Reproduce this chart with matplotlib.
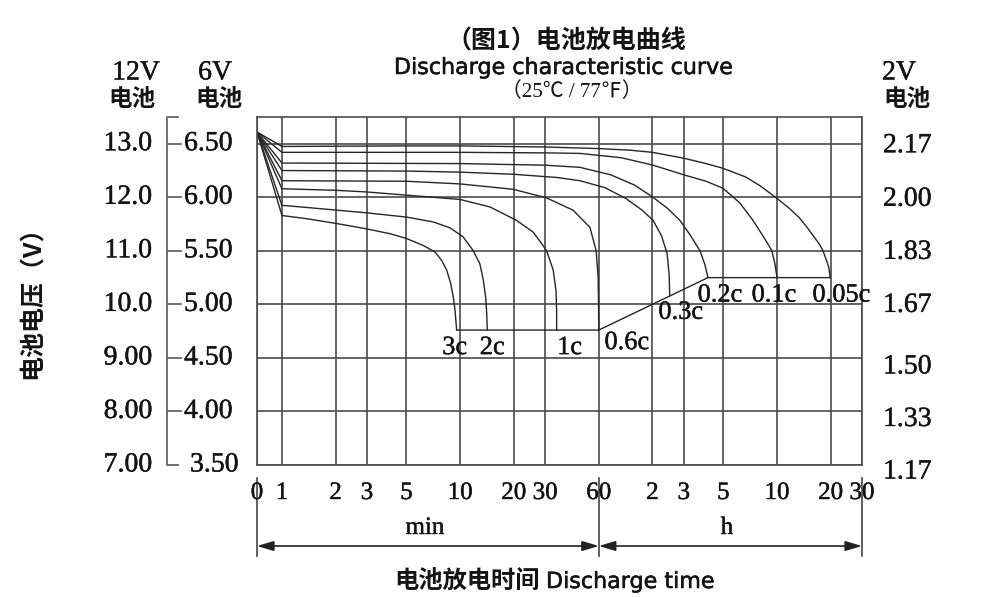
import matplotlib
matplotlib.use("Agg")
import matplotlib.pyplot as plt
import matplotlib.patheffects as pe
from matplotlib.ticker import NullLocator
from matplotlib.transforms import ScaledTranslation

# ---------------- data (time in minutes, voltage on the 12 V scale) ----------------
x_ticks = [0, 1, 2, 3, 5, 10, 20, 30, 60, 120, 180, 300, 600, 1200, 1800]
x_tick_labels = ["0", "1", "2", "3", "5", "10", "20", "30", "60",
                 "2", "3", "5", "10", "20", "30"]

v12_ticks = [13.0, 12.0, 11.0, 10.0, 9.0, 8.0, 7.0]
v12_labels = ["13.0", "12.0", "11.0", "10.0", "9.00", "8.00", "7.00"]
v6_labels = ["6.50", "6.00", "5.50", "5.00", "4.50", "4.00", "3.50"]
v2_labels = ["2.17", "2.00", "1.83", "1.67", "1.50", "1.33", "1.17"]

t_3c = [0, 1, 1.38, 2.03, 2.99, 4.04, 5.01, 6.21, 7.22, 7.88, 8.41, 8.85, 9.15, 9.36, 9.56]
v_3c = [13.22, 11.66, 11.60, 11.51, 11.41, 11.32, 11.23, 11.10, 10.98, 10.82, 10.64, 10.39, 10.14, 9.89, 9.52]

t_2c = [0, 1, 1.38, 2.03, 2.99, 5.01, 7.07, 8.77, 10.4, 11.8, 12.9, 13.5, 13.9, 14.1, 14.2]
v_2c = [13.22, 11.85, 11.81, 11.76, 11.71, 11.63, 11.54, 11.43, 11.26, 11.01, 10.76, 10.45, 10.14, 9.83, 9.52]

t_1c = [0, 1, 2.03, 2.99, 5.01, 9.99, 14.7, 20.7, 25.7, 30.5, 33.3, 34.5, 34.8, 34.8]
v_1c = [13.22, 12.16, 12.13, 12.10, 12.04, 11.96, 11.82, 11.57, 11.35, 11.01, 10.64, 10.26, 9.89, 9.52]

t_06c = [0, 1, 5, 10, 19.8, 30.5, 43, 53.5, 58, 59.5, 59.8, 60]
v_06c = [13.22, 12.31, 12.30, 12.25, 12.15, 11.99, 11.76, 11.44, 11.0, 10.5, 10.0, 9.52]

t_03c = [0, 1, 5, 10, 20, 35, 47, 65, 85, 105, 121, 135, 145, 149, 150]
v_03c = [13.22, 12.50, 12.49, 12.47, 12.43, 12.37, 12.31, 12.18, 11.98, 11.76, 11.57, 11.28, 10.95, 10.55, 10.16]

t_02c = [0, 1, 10, 30, 47, 70, 95, 121, 145, 171, 195, 222, 236, 246]
v_02c = [13.22, 12.64, 12.63, 12.60, 12.56, 12.42, 12.23, 12.0, 11.8, 11.57, 11.3, 11.0, 10.75, 10.5]

t_01c = [0, 1, 10, 30, 47, 80, 121, 180, 240, 298, 370, 440, 500, 540, 562, 585, 600]
v_01c = [13.22, 12.84, 12.84, 12.83, 12.82, 12.74, 12.60, 12.42, 12.30, 12.17, 11.90, 11.57, 11.28, 11.10, 11.0, 10.75, 10.5]

t_005c = [0, 1, 5, 10, 30, 60, 90, 120, 180, 240, 300, 400, 480, 600, 700, 800, 884, 960, 1040, 1087, 1130, 1170, 1195]
v_005c = [13.22, 12.95, 12.96, 12.96, 12.94, 12.91, 12.88, 12.84, 12.73, 12.63, 12.54, 12.38, 12.22, 11.98, 11.80, 11.62, 11.44, 11.28, 11.12, 11.0, 10.85, 10.70, 10.5]

# end-of-discharge (cut-off) voltage line
cutoff_t = [9.56, 60, 246, 1195]
cutoff_v = [9.52, 9.52, 10.5, 10.5]

curves = [("3c", t_3c, v_3c, (-2, -18)),
          ("2c", t_2c, v_2c, (5, -18)),
          ("1c", t_1c, v_1c, (13, -18)),
          ("0.6c", t_06c, v_06c, (28, -13)),
          ("0.3c", t_03c, v_03c, (11, -17)),
          ("0.2c", t_02c, v_02c, (12, -18)),
          ("0.1c", t_01c, v_01c, (-3, -18)),
          ("0.05c", t_005c, v_005c, (11, -18))]

# ---------------- figure ----------------
W, H = 1004, 597
fig = plt.figure(figsize=(W / 100, H / 100), dpi=100)
fig.patch.set_facecolor("white")

L, R, T, B = 257, 862, 117, 465
ax = fig.add_axes([L / W, 1 - B / H, (R - L) / W, (B - T) / H])

SERIF = ["Liberation Serif", "DejaVu Serif"]
CJK = ["Noto Sans CJK SC", "DejaVu Sans"]
GRID = "#4a4a4a"
INK = "#262626"
TXT = "#141414"
# a touch of extra weight for the printed-looking serif numerals
HEAVY = [pe.withStroke(linewidth=0.3, foreground=TXT)]
serif_kw = dict(family=SERIF, color=TXT, path_effects=HEAVY)

ax.set_xscale("symlog", linthresh=1, linscale=0.126)
ax.set_xlim(0, 1800)
ax.set_ylim(7.0, 13.5)
ax.xaxis.set_minor_locator(NullLocator())
ax.set_xticks(x_ticks)
ax.set_yticks(v12_ticks)
ax.tick_params(length=0, labelbottom=False, labelleft=False)
ax.grid(True, color=GRID, lw=1.2)
ax.set_axisbelow(True)
for s in ax.spines.values():
    s.set_color(GRID)
    s.set_linewidth(1.2)

for name, t, v, off in curves:
    ax.plot(t, v, color=INK, lw=1.0, solid_joinstyle="round")
    ax.annotate(name, (t[-1], v[-1]), xytext=off, textcoords="offset pixels",
                ha="center", va="center", fontsize=19, **serif_kw)
ax.plot(cutoff_t, cutoff_v, color=INK, lw=1.0)

# x tick labels
xtr = ax.get_xaxis_transform()
for xv, lab in zip(x_ticks, x_tick_labels):
    ax.text(xv, -(493 - B) / (B - T), lab, transform=xtr, ha="center", va="center",
            fontsize=18, **serif_kw)

# y labels: 12 V, 6 V and 2 V columns
ytr = ax.get_yaxis_transform()
px = lambda p: (p - L) / (R - L)
for v, l12, l6 in zip(v12_ticks, v12_labels, v6_labels):
    ax.text(px(152), v, l12, transform=ytr, ha="right", va="center",
            fontsize=20, clip_on=False, **serif_kw)
    x6 = 190 if v == v12_ticks[-1] else 184
    ax.text(px(x6), v, l6, transform=ytr, ha="left", va="center",
            fontsize=20, clip_on=False, **serif_kw)

# bracket of the 6 V column
br_kw = dict(transform=ytr, color="#666666", lw=1.3, clip_on=False)
ax.plot([px(178), px(167), px(167), px(178)], [13.5, 13.5, 7.0, 7.0], **br_kw)
for v in v12_ticks[:-1]:
    ax.plot([px(167), px(181)], [v, v], **br_kw)

right_shift = [2, 2, 1.5, 1, 9, 8, 7]
for v, l2, dy in zip(v12_ticks, v2_labels, right_shift):
    tr = ytr + ScaledTranslation(0, -dy / 100, fig.dpi_scale_trans)
    ax.text(px(883), v, l2, transform=tr, ha="left", va="center",
            fontsize=20, clip_on=False, **serif_kw)

# column headers
def ftext(x, y, s, **kw):
    fig.text(x / W, 1 - y / H, s, **kw)

for xc, lab in ((136, "12V"), (215, "6V"), (899, "2V")):
    ftext(xc, 73, lab, ha="center", va="center", fontsize=20, **serif_kw)
for xc in (132, 219, 907):
    ftext(xc, 99, "电池", ha="center", va="center", fontsize=17, family=CJK,
          weight="bold", color=TXT)

# titles
ftext(566, 41, "（图1）电池放电曲线", ha="center", va="center", fontsize=18,
      family=CJK, weight="bold", color=TXT)
ftext(564, 68, "Discharge characteristic curve", ha="center", va="center",
      fontsize=16, family=["DejaVu Sans"], color=TXT,
      path_effects=[pe.withStroke(linewidth=0.4, foreground=TXT)])
ftext(572, 92, "（25℃ / 77℉）", ha="center", va="center", fontsize=15,
      family=["Liberation Serif", "Noto Sans CJK SC"], color=TXT)

# y axis title
ftext(33, 296, "电池电压（V）", ha="center", va="center", rotation=90,
      fontsize=18, family=CJK, weight="bold", color=TXT)

# time unit brackets under the axis
xfig = ax.get_xaxis_transform()
yax = lambda p: -(p - B) / (B - T)
for xv in (0, 60, 1800):
    ax.plot([xv, xv], [yax(478), yax(556)], transform=xfig, color="#444444",
            lw=1.2, clip_on=False)
arrow_kw = dict(arrowstyle="<|-|>,head_length=1.0,head_width=0.3", color="#222222",
                lw=1.2, shrinkA=0, shrinkB=0)
ax.annotate("", xy=(0, yax(546)), xytext=(60, yax(546)), xycoords=xfig,
            textcoords=xfig, arrowprops=arrow_kw, annotation_clip=False)
ax.annotate("", xy=(60, yax(546)), xytext=(1800, yax(546)), xycoords=xfig,
            textcoords=xfig, arrowprops=arrow_kw, annotation_clip=False)
ftext(425, 528, "min", ha="center", va="center", fontsize=18, **serif_kw)
ftext(727, 528, "h", ha="center", va="center", fontsize=18, **serif_kw)

ftext(540, 582, "电池放电时间", ha="right", va="center", fontsize=17.5,
      family=CJK, weight="bold", color=TXT)
ftext(546, 582, "Discharge time", ha="left", va="center", fontsize=16,
      family=["DejaVu Sans"], color=TXT,
      path_effects=[pe.withStroke(linewidth=0.4, foreground=TXT)])

fig.savefig("out.png", dpi=100, facecolor="white")
